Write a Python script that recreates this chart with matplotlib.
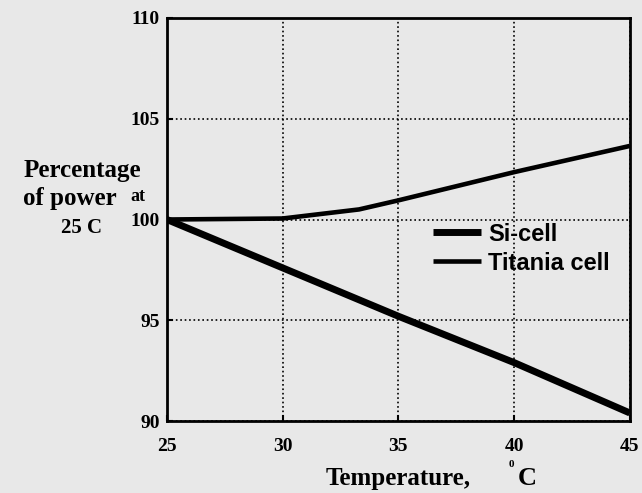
import matplotlib.pyplot as plt

# datos
temp = [25, 30, 35, 40, 45]
si_cell = [100.0, 97.6, 95.2, 92.9, 90.4]
tit_temp = [25, 30, 33.3, 35, 40, 45]
titania = [100.0, 100.05, 100.5, 100.95, 102.35, 103.65]
xticks = [25, 30, 35, 40, 45]
yticks = [90, 95, 100, 105, 110]

bg = '#e8e8e8'
fig = plt.figure(figsize=(6.42, 4.93), dpi=100, facecolor=bg)
ax = fig.add_axes([0.260, 0.146, 0.721, 0.8175], facecolor=bg)

ax.plot(temp, si_cell, color='black', lw=5, solid_capstyle='butt', label='Si-cell')
ax.plot(tit_temp, titania, color='black', lw=3.3, solid_capstyle='butt', label='Titania cell')

ax.set_xlim(25, 45)
ax.set_ylim(90, 110)
ax.set_xticks(xticks)
ax.set_yticks(yticks)
ax.grid(True, color='black', linestyle=':', lw=1.2)
for s in ax.spines.values():
    s.set_linewidth(2)
ax.tick_params(direction='in', length=4, width=1.5)
ax.tick_params(axis='x', pad=12)
ax.tick_params(axis='y', pad=5)
for lab in ax.get_xticklabels() + ax.get_yticklabels():
    lab.set_family('Liberation Serif')
    lab.set_fontweight('bold')
    lab.set_fontsize(14)

# rotulos dos eixos
fig.text(0.128, 0.655, 'Percentage', family='Liberation Serif', fontweight='bold',
         fontsize=18, ha='center', va='center')
fig.text(0.108, 0.597, 'of power', family='Liberation Serif', fontweight='bold',
         fontsize=18, ha='center', va='center')
fig.text(0.215, 0.602, 'at', family='Liberation Serif', fontweight='bold',
         fontsize=13, ha='center', va='center')
fig.text(0.127, 0.537, '25 C', family='Liberation Serif', fontweight='bold',
         fontsize=15, ha='center', va='center')
fig.text(0.620, 0.030, 'Temperature,', family='Liberation Serif', fontweight='bold',
         fontsize=18, ha='center', va='center')
fig.text(0.821, 0.030, 'C', family='Liberation Serif', fontweight='bold',
         fontsize=19, ha='center', va='center')
fig.text(0.796, 0.058, '0', family='Liberation Serif', fontweight='bold',
         fontsize=8, ha='center', va='center')

leg = ax.legend(loc='upper left', bbox_to_anchor=(0.53, 0.545), frameon=False,
                prop={'family': 'Liberation Sans', 'weight': 'bold', 'size': 17},
                handlelength=2.0, handletextpad=0.3, labelspacing=0.25)

plt.savefig('out.png', dpi=100, facecolor=bg)
